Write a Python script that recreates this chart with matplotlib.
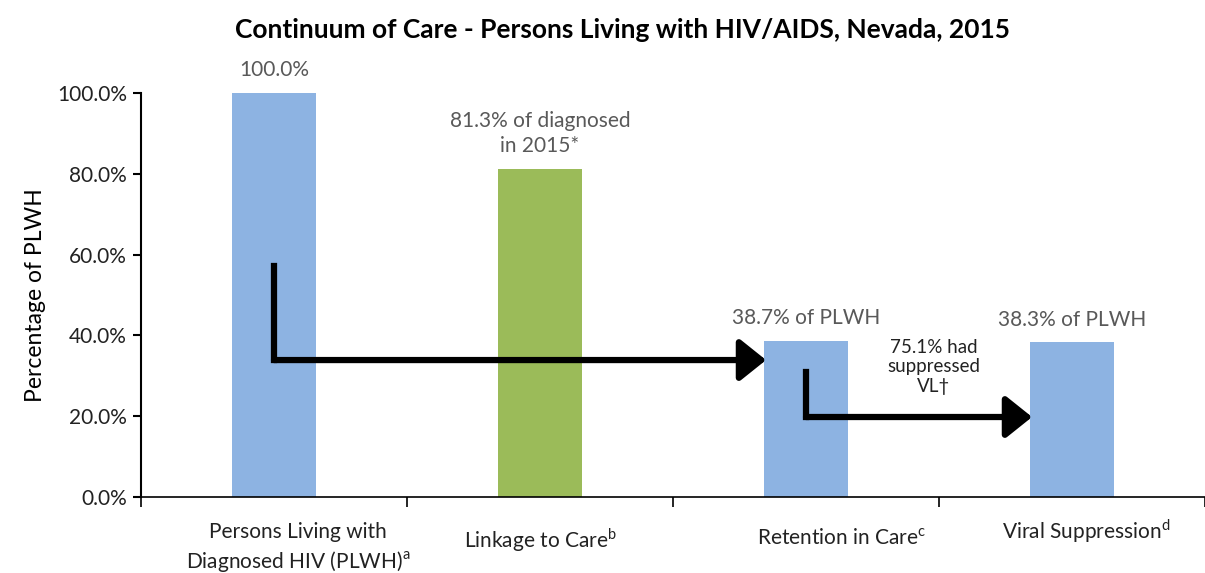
import matplotlib.pyplot as plt
from matplotlib.transforms import blended_transform_factory

plt.rcParams['font.family'] = ['Lato', 'DejaVu Sans']

# === data ===
categories = ["Persons Living with\nDiagnosed HIV (PLWH)$^{\\mathregular{a}}$",
              "Linkage to Care$^{\\mathregular{b}}$",
              "Retention in Care$^{\\mathregular{c}}$",
              "Viral Suppression$^{\\mathregular{d}}$"]
values = [100.0, 81.3, 38.7, 38.3]
bar_labels = ["100.0%", "81.3% of diagnosed\nin 2015*", "38.7% of PLWH", "38.3% of PLWH"]
colors = ["#8DB3E2", "#9BBB59", "#8DB3E2", "#8DB3E2"]
yticks = [0, 20, 40, 60, 80, 100]

# arrows: (x_start, y_top, y_corner, x_tip)
arrows = [(0.0, 57.2, 33.9, 1.85), (2.0, 30.9, 19.8, 2.85)]
arrow_note = "75.1% had\nsuppressed\nVL\u2020"

fig = plt.figure(figsize=(12.05, 5.73), dpi=100)
ax = fig.add_axes([141 / 1205, 1 - 497 / 573, 1 - 141 / 1205, (497 - 93) / 573])

x = range(len(values))
ax.bar(x, values, width=0.315, color=colors, zorder=2)

ax.set_xlim(-0.5, 3.42)
ax.set_ylim(0, 100)
ax.set_yticks(yticks)
ax.set_yticklabels([f"{v:.1f}%" for v in yticks], fontsize=15, color="#222222")
ax.tick_params(axis='y', direction='out', length=6, width=1.5, pad=4)
ax.set_xticks([])
ax.set_xticks([-0.5, 0.5, 1.5, 2.5, 3.5], minor=True)
ax.tick_params(axis='x', which='minor', direction='out', length=7, width=1.2)
for s in ['top', 'right']:
    ax.spines[s].set_visible(False)
ax.spines['left'].set_linewidth(1.5)
ax.spines['bottom'].set_linewidth(1.2)
ax.set_ylabel("Percentage of PLWH", fontsize=16.5, labelpad=8)

# data labels
for i, (v, lab) in enumerate(zip(values, bar_labels)):
    ax.annotate(lab, (i, v), xytext=(0, 9), textcoords='offset points',
                ha='center', va='bottom', fontsize=15, color="#595959", linespacing=1.3)

# category labels (placed individually like the original text boxes)
cat_dx = [0.09, 0.0, 0.135, 0.055]
cat_y = [-18, -21, -22, -15]
tr = blended_transform_factory(ax.transData, ax.transAxes)
for i, c in enumerate(categories):
    ax.annotate(c, (i + cat_dx[i], 0), xycoords=tr, xytext=(0, cat_y[i]),
                textcoords='offset points', ha='center', va='top',
                fontsize=15, color="#222222", linespacing=1.35)

# L-shaped arrows
for xs, ytop, ycorner, xtip in arrows:
    ax.plot([xs, xs], [ytop, ycorner], color='black', lw=4.5,
            solid_capstyle='projecting', zorder=4)
    ax.annotate("", xy=(xtip, ycorner), xytext=(xs, ycorner),
                arrowprops=dict(arrowstyle='-|>,head_length=1.0,head_width=0.8',
                                mutation_scale=16, lw=4.5, color='black',
                                shrinkA=0, shrinkB=0), zorder=4)

ax.text(2.48, 32.2, arrow_note, ha='center', va='center', fontsize=13.5,
        color="#222222", linespacing=1.2)

fig.text(622 / 1205, 1 - 30 / 573, "Continuum of Care - Persons Living with HIV/AIDS, Nevada, 2015",
         ha='center', va='center', fontsize=19, fontweight='bold')

fig.savefig("out.png", dpi=100)
